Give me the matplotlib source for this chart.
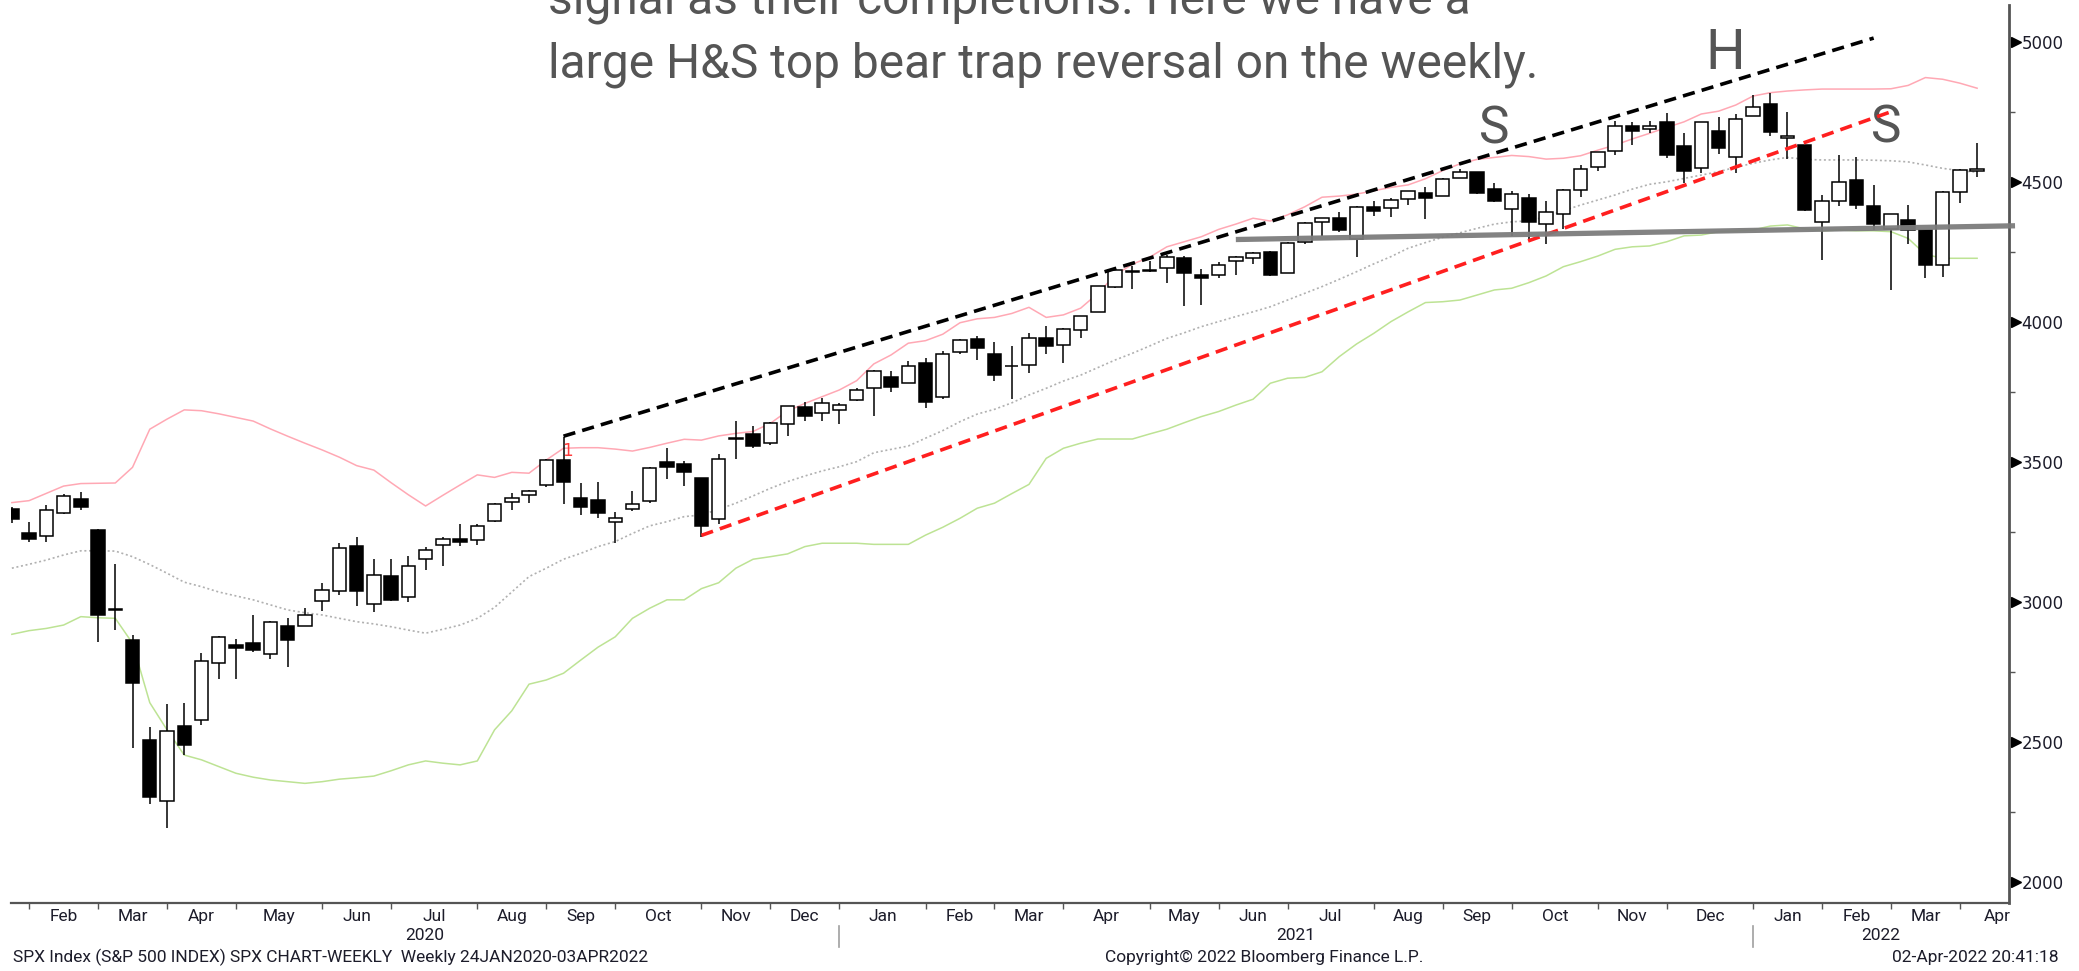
"""
SPX weekly candlestick chart with Bollinger bands and H&S annotation (Bloomberg style).
"""
import numpy as np
import pandas as pd
import matplotlib
matplotlib.use('Agg')
import matplotlib.pyplot as plt
import matplotlib.transforms as mtransforms
from matplotlib.ticker import MultipleLocator

# ------------------------------------------------------------------
# Data (weekly bars, Friday dates)
# ------------------------------------------------------------------
dates = pd.date_range('2020-01-24', periods=115, freq='W-FRI')

opens = [3333.1, 3247.2, 3235.7, 3318.3, 3369.0, 3257.6, 2974.3, 2863.9, 2508.6, 2290.7,
         2559.0, 2578.3, 2782.5, 2845.6, 2854.7, 2815.0, 2915.5, 2913.9, 3004.1, 3038.8,
         3199.9, 2993.8, 3094.4, 3018.6, 3155.3, 3205.1, 3224.3, 3219.8, 3288.3, 3356.0,
         3380.9, 3418.1, 3507.4, 3371.9, 3363.6, 3285.6, 3333.9, 3360.0, 3500.0, 3493.5,
         3441.4, 3296.2, 3583.0, 3600.2, 3566.8, 3634.2, 3694.7, 3675.3, 3684.3, 3723.0,
         3764.6, 3803.1, 3781.9, 3851.7, 3731.2, 3892.6, 3939.6, 3885.6, 3842.5, 3844.4,
         3943.0, 3916.5, 3971.1, 4034.4, 4124.7, 4179.8, 4185.0, 4192.0, 4228.3, 4169.1,
         4168.6, 4216.5, 4229.3, 4248.9, 4173.4, 4284.9, 4356.5, 4372.4, 4296.4, 4409.6,
         4406.9, 4437.8, 4461.7, 4450.3, 4513.8, 4535.4, 4474.8, 4403.0, 4442.1, 4348.8,
         4385.4, 4471.5, 4553.4, 4610.6, 4697.7, 4689.3, 4712.0, 4628.8, 4548.4, 4681.8,
         4587.9, 4734.0, 4778.1, 4655.3, 4632.2, 4356.3, 4431.8, 4505.8, 4412.6, 4332.7,
         4363.1, 4327.0, 4202.8, 4462.4, 4540.3]
highs = [3337.6, 3285.9, 3348.0, 3385.1, 3393.5, 3259.8, 3136.7, 2882.6, 2553.9, 2637.0,
         2641.4, 2818.6, 2879.2, 2869.1, 2954.9, 2932.2, 2944.3, 2980.3, 3068.7, 3211.7,
         3233.1, 3155.5, 3155.5, 3165.8, 3197.5, 3233.5, 3279.3, 3280.0, 3352.5, 3387.9,
         3400.0, 3509.2, 3588.1, 3425.6, 3428.9, 3320.3, 3397.2, 3482.3, 3549.9, 3502.4,
         3441.4, 3529.1, 3646.0, 3628.5, 3644.3, 3699.2, 3712.4, 3726.7, 3711.2, 3764.0,
         3826.7, 3823.6, 3861.5, 3870.9, 3894.6, 3937.6, 3950.4, 3928.7, 3914.5, 3960.3,
         3983.9, 3978.2, 4020.6, 4129.5, 4191.3, 4200.0, 4218.8, 4238.0, 4236.4, 4188.7,
         4213.4, 4234.1, 4249.7, 4251.9, 4286.1, 4355.4, 4371.6, 4393.7, 4415.2, 4430.0,
         4440.8, 4468.0, 4480.3, 4513.3, 4545.9, 4535.4, 4496.0, 4465.4, 4457.3, 4430.0,
         4475.8, 4559.7, 4608.1, 4718.5, 4714.9, 4717.8, 4743.8, 4673.0, 4712.6, 4732.0,
         4740.7, 4808.9, 4818.6, 4748.8, 4632.2, 4453.2, 4595.3, 4590.0, 4489.6, 4385.2,
         4416.8, 4327.0, 4465.4, 4546.0, 4637.3]
lows = [3281.5, 3214.6, 3214.3, 3315.2, 3328.5, 2855.8, 2901.5, 2478.9, 2280.5, 2191.9,
        2455.8, 2563.0, 2727.1, 2727.1, 2822.0, 2797.9, 2766.6, 2913.9, 2969.8, 3025.2,
        2984.5, 2965.7, 3004.6, 3000.0, 3115.9, 3127.7, 3200.8, 3204.1, 3284.5, 3329.3,
        3354.7, 3410.4, 3349.6, 3310.0, 3300.0, 3209.5, 3323.7, 3355.0, 3440.5, 3415.9,
        3233.9, 3279.7, 3511.9, 3550.0, 3560.0, 3594.4, 3645.8, 3647.0, 3636.5, 3719.0,
        3662.7, 3749.6, 3781.9, 3694.1, 3725.6, 3884.9, 3865.7, 3789.5, 3723.3, 3819.3,
        3885.7, 3853.5, 3944.0, 4034.4, 4120.0, 4118.4, 4176.8, 4140.0, 4056.9, 4061.4,
        4155.6, 4167.6, 4205.3, 4164.4, 4173.4, 4278.0, 4305.0, 4321.7, 4233.1, 4378.0,
        4375.0, 4416.2, 4367.7, 4450.3, 4513.4, 4457.7, 4427.8, 4305.9, 4288.5, 4278.9,
        4329.9, 4447.5, 4537.4, 4595.1, 4630.9, 4672.8, 4585.4, 4495.1, 4531.1, 4600.2,
        4531.1, 4734.0, 4662.7, 4582.2, 4395.3, 4222.6, 4414.0, 4401.4, 4327.2, 4114.7,
        4279.5, 4157.9, 4161.7, 4424.3, 4517.7]
closes = [3295.5, 3225.5, 3327.7, 3380.2, 3337.8, 2954.2, 2972.4, 2711.0, 2304.9, 2541.5,
          2488.7, 2789.8, 2874.6, 2836.7, 2830.7, 2929.8, 2863.7, 2955.5, 3044.3, 3193.9,
          3041.3, 3097.7, 3009.1, 3130.0, 3185.0, 3224.7, 3215.6, 3271.1, 3351.3, 3372.9,
          3397.2, 3508.0, 3427.0, 3341.0, 3319.5, 3298.5, 3348.4, 3477.1, 3483.8, 3465.4,
          3270.0, 3509.4, 3585.2, 3557.5, 3638.4, 3699.1, 3663.5, 3709.4, 3703.1, 3756.1,
          3824.7, 3768.3, 3841.5, 3714.2, 3886.8, 3934.8, 3906.7, 3811.2, 3841.9, 3943.3,
          3913.1, 3974.5, 4019.9, 4128.8, 4185.5, 4180.2, 4181.2, 4232.6, 4173.9, 4155.9,
          4204.1, 4229.9, 4247.4, 4166.5, 4280.7, 4352.3, 4369.6, 4327.2, 4411.8, 4395.3,
          4436.5, 4468.0, 4441.7, 4509.4, 4535.4, 4458.6, 4433.0, 4455.5, 4357.0, 4391.3,
          4471.4, 4544.9, 4605.4, 4697.5, 4682.9, 4698.0, 4594.6, 4538.4, 4712.0, 4620.6,
          4725.8, 4766.2, 4677.0, 4662.9, 4397.9, 4431.9, 4500.5, 4418.6, 4348.9, 4384.7,
          4328.9, 4204.3, 4463.1, 4543.1, 4545.9]

bb_upper = [3355, 3362, 3388, 3414, 3423, 3424, 3425, 3481, 3617, 3653,
            3686, 3683, 3672, 3659, 3646, 3618, 3592, 3567, 3543, 3517,
            3487, 3471, 3426, 3383, 3343, 3381, 3418, 3454, 3445, 3463,
            3460, 3507, 3549, 3551, 3551, 3546, 3539, 3552, 3567, 3581,
            3578, 3593, 3602, 3609, 3638, 3682, 3709, 3733, 3757, 3790,
            3850, 3882, 3924, 3933, 3956, 3997, 4011, 4016, 4030, 4052,
            4016, 4025, 4049, 4102, 4167, 4206, 4231, 4268, 4286, 4304,
            4330, 4349, 4370, 4360, 4382, 4411, 4445, 4449, 4456, 4468,
            4480, 4489, 4511, 4540, 4564, 4580, 4587, 4594, 4590, 4581,
            4584, 4593, 4613, 4631, 4653, 4673, 4694, 4714, 4742, 4752,
            4774, 4806, 4818, 4824, 4828, 4831, 4831, 4831, 4831, 4832,
            4844, 4872, 4866, 4852, 4834]
bb_mid = [3121, 3135, 3150, 3168, 3183, 3183, 3182, 3162, 3134, 3103,
          3071, 3055, 3036, 3022, 3008, 2990, 2972, 2962, 2954, 2942,
          2930, 2922, 2912, 2900, 2889, 2903, 2918, 2942, 2981, 3036,
          3091, 3121, 3153, 3174, 3198, 3216, 3245, 3272, 3287, 3305,
          3311, 3331, 3353, 3379, 3406, 3430, 3450, 3468, 3483, 3501,
          3533, 3545, 3557, 3585, 3612, 3644, 3671, 3688, 3711, 3739,
          3763, 3789, 3810, 3837, 3864, 3888, 3914, 3941, 3961, 3983,
          4001, 4019, 4036, 4054, 4078, 4102, 4126, 4152, 4179, 4207,
          4233, 4263, 4283, 4302, 4318, 4334, 4349, 4357, 4361, 4375,
          4397, 4417, 4435, 4453, 4474, 4491, 4500, 4512, 4524, 4536,
          4552, 4566, 4578, 4587, 4580, 4578, 4578, 4578, 4577, 4575,
          4571, 4560, 4548, 4540, 4534]
bb_lower = [2885, 2898, 2906, 2918, 2948, 2944, 2942, 2853, 2641, 2544,
            2454, 2437, 2413, 2389, 2375, 2365, 2359, 2353, 2359, 2368,
            2373, 2379, 2398, 2419, 2433, 2425, 2419, 2433, 2544, 2612,
            2707, 2722, 2746, 2793, 2839, 2876, 2942, 2978, 3008, 3008,
            3048, 3069, 3121, 3153, 3162, 3172, 3198, 3210, 3210, 3210,
            3206, 3206, 3206, 3239, 3267, 3299, 3335, 3353, 3387, 3420,
            3513, 3549, 3567, 3582, 3582, 3582, 3600, 3617, 3640, 3662,
            3680, 3703, 3724, 3781, 3799, 3802, 3822, 3876, 3921, 3959,
            4001, 4036, 4069, 4072, 4078, 4096, 4114, 4120, 4140, 4164,
            4197, 4215, 4235, 4259, 4268, 4271, 4286, 4307, 4310, 4322,
            4324, 4328, 4342, 4346, 4332, 4325, 4328, 4325, 4325, 4322,
            4298, 4241, 4227, 4227, 4227]

# hand drawn trend lines: (bar index, price)
upper_trend = ([32, 108], [3592, 5013])
lower_trend = ([40, 109], [3238, 4750])
neckline = ([71, 116.2], [4294, 4343])

yticks = [2000, 2500, 3000, 3500, 4000, 4500, 5000]

NARROW = ['Roboto', 'DejaVu Sans']
HAND = ['Roboto', 'DejaVu Sans']
INK = '#1c1c2a'
PENCIL = '#555555'

# ------------------------------------------------------------------
# Figure
# ------------------------------------------------------------------
W, H = 2079, 971
fig = plt.figure(figsize=(W / 100, H / 100), dpi=100)
ax = fig.add_axes([11 / W, (H - 903) / H, (2009 - 11) / W, (903 - 5) / H])

x = np.arange(len(dates))
o = np.array(opens); h = np.array(highs); l = np.array(lows); c = np.array(closes)

# bollinger bands
ax.plot(x, bb_upper, color='#ffa8b4', lw=1.1, zorder=1)
ax.plot(x, bb_lower, color='#bde394', lw=1.1, zorder=1)
ax.plot(x, bb_mid, color='#b0b0b0', lw=1.2, ls=(0, (1.2, 1.6)), zorder=1)

# candles
ax.vlines(x, l, h, color='black', lw=1.1, zorder=2)
up = c >= o
body_lo = np.minimum(o, c)
body_h = np.maximum(np.abs(c - o), 0.5)
ax.bar(x, body_h, bottom=body_lo, width=0.78,
       color=np.where(up, 'white', 'black'), edgecolor='black', linewidth=1.1, zorder=3)

# trend lines
ax.plot(*upper_trend, color='black', lw=2.6, ls=(0, (3.4, 2.0)), zorder=4)
ax.plot(*lower_trend, color='#ff1f1f', lw=2.6, ls=(0, (3.4, 2.0)), zorder=4)
ax.plot(*neckline, color='#7c7c7c', lw=3.8, alpha=0.95, solid_capstyle='butt',
        zorder=4, clip_on=False)

# small bloomberg marker
ax.text(32.2, 3520, '1', color='#ff3b3b', fontsize=12, ha='center', va='baseline', zorder=5)

# H&S letters
ax.text(86.0, 4638, 'S', fontsize=37, family=HAND, color=PENCIL,
        ha='center', va='baseline')
ax.text(99.4, 4903, 'H', fontsize=40, family=HAND, color=PENCIL,
        ha='center', va='baseline')
ax.text(108.7, 4642, 'S', fontsize=37, family=HAND, color=PENCIL,
        ha='center', va='baseline')

# axes limits / spines
ax.set_xlim(-0.05, 115.85)
ax.set_ylim(1926, 5131)
for s in ['left', 'top']:
    ax.spines[s].set_visible(False)
ax.spines['right'].set_color('#555555')
ax.spines['right'].set_linewidth(2.0)
ax.spines['bottom'].set_color('#555555')
ax.spines['bottom'].set_linewidth(1.6)

# y axis on the right
ax.yaxis.tick_right()
ax.set_yticks(yticks)
ax.set_yticklabels([str(v) for v in yticks])
ax.yaxis.set_minor_locator(MultipleLocator(250))
ax.tick_params(axis='y', which='major', length=0, pad=9, labelsize=12, labelcolor=INK)
ax.tick_params(axis='y', which='minor', length=4, width=1, color='#555555', direction='out')
tri = mtransforms.blended_transform_factory(ax.transAxes, ax.transData)
ax.plot([1.0035] * len(yticks), yticks, transform=tri, marker='>', ms=7, color='black',
        ls='none', clip_on=False)

# x axis: month ticks at the last bar of each month
month_ticks = [i for i in range(len(dates) - 1) if dates[i].month != dates[i + 1].month]
ax.set_xticks(month_ticks)
ax.tick_params(axis='x', length=4, width=1, color='#555555', direction='out', labelbottom=False)

xtr = ax.get_xaxis_transform()
edges = month_ticks + [month_ticks[-1] + 4.3]
for k, t in enumerate(month_ticks):
    mid = (edges[k] + edges[k + 1]) / 2
    lab = dates[t + 1].strftime('%b')
    ax.text(mid, -0.0155, lab, transform=xtr, ha='center', va='center',
            fontsize=12.5, family=NARROW, color=INK, clip_on=False)

# year separators and labels
year_ticks = [t for t in month_ticks if dates[t + 1].month == 1]
xmin, xmax = ax.get_xlim()
bounds = [xmin] + year_ticks + [xmax]
for t in year_ticks:
    ax.plot([t, t], [-0.0256, -0.049], transform=xtr, color='#a0a0a0', lw=1.2, clip_on=False)
years = [dates[0].year + k for k in range(len(bounds) - 1)]
for k, yr in enumerate(years):
    ax.text((bounds[k] + bounds[k + 1]) / 2, -0.036, str(yr), transform=xtr, ha='center',
            va='center', fontsize=12.5, family=NARROW, color=INK, clip_on=False)

# footer
fy = (H - 957) / H
fig.text(13 / W, fy, 'SPX Index (S&P 500 INDEX) SPX CHART-WEEKLY  Weekly 24JAN2020-03APR2022',
         fontsize=12.5, family=NARROW, color=INK, ha='left', va='center')
fig.text(1264 / W, fy, 'Copyright\u00a9 2022 Bloomberg Finance L.P.',
         fontsize=12.5, family=NARROW, color=INK, ha='center', va='center')
fig.text(2059 / W, fy, '02-Apr-2022 20:41:18',
         fontsize=12.5, family=NARROW, color=INK, ha='right', va='center')

# handwritten note at the top
fig.text(548 / W, (H - 13) / H, 'signal as their completions. Here we have a',
         fontsize=34.5, family=HAND, color=PENCIL, ha='left', va='baseline')
fig.text(548 / W, (H - 77) / H, 'large H&S top bear trap reversal on the weekly.',
         fontsize=34.5, family=HAND, color=PENCIL, ha='left', va='baseline')

fig.savefig('out.png', dpi=100, facecolor='white')
